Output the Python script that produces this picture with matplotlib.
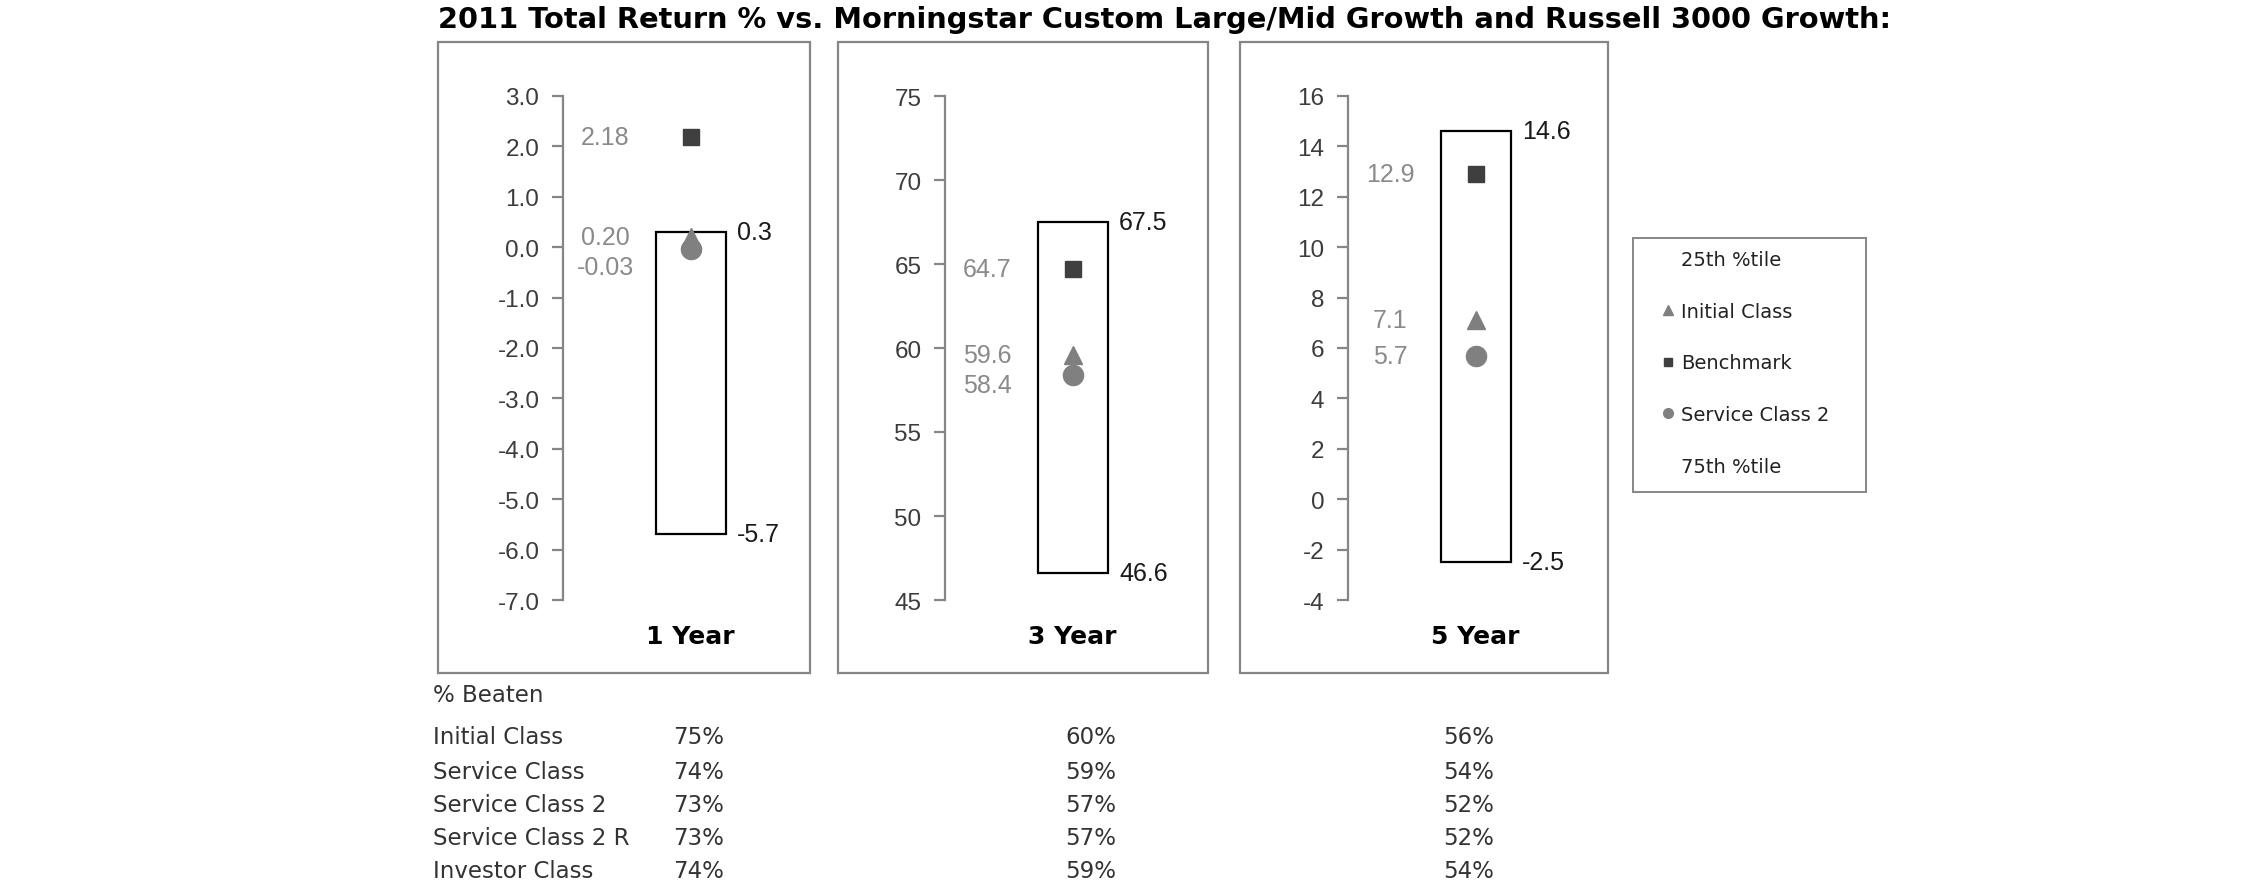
import matplotlib
matplotlib.use('Agg')
import matplotlib.pyplot as plt
from matplotlib.patches import Rectangle
from matplotlib.lines import Line2D
import numpy as np

# ---------------- data ----------------
periods = ['1 Year', '3 Year', '5 Year']
pct25 = [0.3, 67.5, 14.6]          # top of box (25th %tile)
pct75 = [-5.7, 46.6, -2.5]         # bottom of box (75th %tile)
initial_class = [0.20, 59.6, 7.1]
benchmark = [2.18, 64.7, 12.9]
service_class_2 = [-0.03, 58.4, 5.7]
y_min = [-7, 45, -4]
y_max = [3, 75, 16]
y_step = [1, 5, 2]
tick_fmt = ['{:.1f}', '{:.0f}', '{:.0f}']
label_decimals = [2, 1, 1]

classes = ['Initial Class', 'Service Class', 'Service Class 2',
           'Service Class 2 R', 'Investor Class']
beaten_1y = [75, 74, 73, 73, 74]
beaten_3y = [60, 59, 57, 57, 59]
beaten_5y = [56, 54, 52, 52, 54]

legend_labels = ['25th %tile', 'Initial Class', 'Benchmark',
                 'Service Class 2', '75th %tile']

title = ('2011 Total Return % vs. Morningstar Custom Large/Mid Growth '
         'and Russell 3000 Growth:')

# ---------------- layout / style ----------------
W, H = 2250, 895
plt.rcParams['font.family'] = ['Liberation Sans', 'DejaVu Sans']
fig = plt.figure(figsize=(W / 100, H / 100), dpi=100)


def fx(px):
    return px / W


def fy(py):
    return 1 - py / H


GRAY = '#868686'
C_TRI = '#7f7f7f'
C_SQ = '#3f3f3f'
C_CIR = '#808080'

frame_x = [(438, 810), (838, 1208), (1240, 1608)]
frame_top, frame_bot = 43, 674
spine_x = [563, 945, 1348]
ax_w = 240
ax_top, ax_bot = 97, 601

for (x0, x1) in frame_x:
    fig.add_artist(Rectangle((fx(x0), fy(frame_bot)), fx(x1 - x0),
                             (frame_bot - frame_top) / H,
                             transform=fig.transFigure, fill=False,
                             edgecolor=GRAY, linewidth=1.6))

for i in range(3):
    ax = fig.add_axes([fx(spine_x[i]), fy(ax_bot), fx(ax_w),
                       (ax_bot - ax_top) / H])
    ax.patch.set_alpha(0)
    ax.set_xlim(-1.82, 1.6)
    ax.set_ylim(y_min[i], y_max[i])
    for s in ['top', 'right', 'bottom']:
        ax.spines[s].set_visible(False)
    ax.spines['left'].set_color(GRAY)
    ax.spines['left'].set_linewidth(1.6)
    ticks = np.arange(y_min[i], y_max[i] + y_step[i] / 2, y_step[i])
    ax.set_yticks(ticks)
    ax.set_yticklabels([tick_fmt[i].format(v) for v in ticks])
    ax.tick_params(axis='y', length=8, width=1.6, color=GRAY,
                   labelsize=17.5, labelcolor='#3c3c3c', pad=9)
    ax.set_xticks([0])
    ax.set_xticklabels([periods[i]], fontweight='bold', fontsize=18,
                       family='DejaVu Sans')
    ax.tick_params(axis='x', length=0, pad=17.5, labelcolor='black')

    ax.bar(0, pct25[i] - pct75[i], bottom=pct75[i], width=1.0,
           facecolor='white', edgecolor='black', linewidth=1.6, zorder=2)
    ax.plot([0], [initial_class[i]], ls='none', marker='^', ms=13,
            color=C_TRI, zorder=3, clip_on=False)
    ax.plot([0], [benchmark[i]], ls='none', marker='s', ms=12,
            color=C_SQ, zorder=4, clip_on=False)
    ax.plot([0], [service_class_2[i]], ls='none', marker='o', ms=14.5,
            color=C_CIR, zorder=5, clip_on=False)

    # right-side percentile labels
    for v in (pct25[i], pct75[i]):
        ax.annotate(f'{v:.1f}', xy=(0.5, v), xytext=(8, 0),
                    textcoords='offset points', ha='left', va='center',
                    fontsize=18, color='#1a1a1a')

    # left-side value labels, stacked to avoid overlap
    vals = sorted([benchmark[i], initial_class[i], service_class_2[i]],
                  reverse=True)
    prev = None
    for v in vals:
        dy_disp = ax.transData.transform((0, v))[1]
        target = dy_disp if prev is None else min(dy_disp, prev - 30)
        off_pt = (target - dy_disp) * 72 / fig.dpi
        ax.annotate(f'{v:.{label_decimals[i]}f}', xy=(-1.22, v),
                    xytext=(0, off_pt), textcoords='offset points',
                    ha='center', va='center', fontsize=18, color='#8a8a8a')
        prev = target

# ---------------- legend ----------------
handles = [
    Line2D([], [], ls='none', marker=''),
    Line2D([], [], ls='none', marker='^', color=C_TRI, ms=7),
    Line2D([], [], ls='none', marker='s', color=C_SQ, ms=6),
    Line2D([], [], ls='none', marker='o', color=C_CIR, ms=7),
    Line2D([], [], ls='none', marker=''),
]
fig.legend(handles, legend_labels, loc='upper left',
           bbox_to_anchor=(fx(1661), fy(251)), frameon=False,
           prop={'family': 'DejaVu Sans', 'size': 14},
           handlelength=0.75, handletextpad=0.3, labelspacing=1.68,
           borderpad=0, borderaxespad=0, labelcolor='#222222')
fig.add_artist(Rectangle((fx(1633), fy(493)), fx(1866 - 1633),
                         (493 - 239) / H, transform=fig.transFigure,
                         fill=False, edgecolor=GRAY, linewidth=1.4))

# ---------------- % Beaten table ----------------
tbl_font = dict(family='DejaVu Sans', fontsize=16.5, color='#333333',
                va='center', ha='left')
fig.text(fx(433), fy(696), '% Beaten', **tbl_font)
row_y = [738, 773, 806, 839, 872]
col_x = [673, 1065, 1443]
for r, name in enumerate(classes):
    fig.text(fx(433), fy(row_y[r]), name, **tbl_font)
    for c, col in enumerate([beaten_1y, beaten_3y, beaten_5y]):
        fig.text(fx(col_x[c]), fy(row_y[r]), f'{col[r]}%', **tbl_font)

# ---------------- title ----------------
t = fig.text(fx(438), fy(20), title, fontweight='bold', family='DejaVu Sans',
             fontsize=17, va='center', ha='left', color='black')
fig.canvas.draw()
w = t.get_window_extent(renderer=fig.canvas.get_renderer()).width
t.set_fontsize(17 * 1456 / w)

fig.savefig('out.png', dpi=100, facecolor='white')
